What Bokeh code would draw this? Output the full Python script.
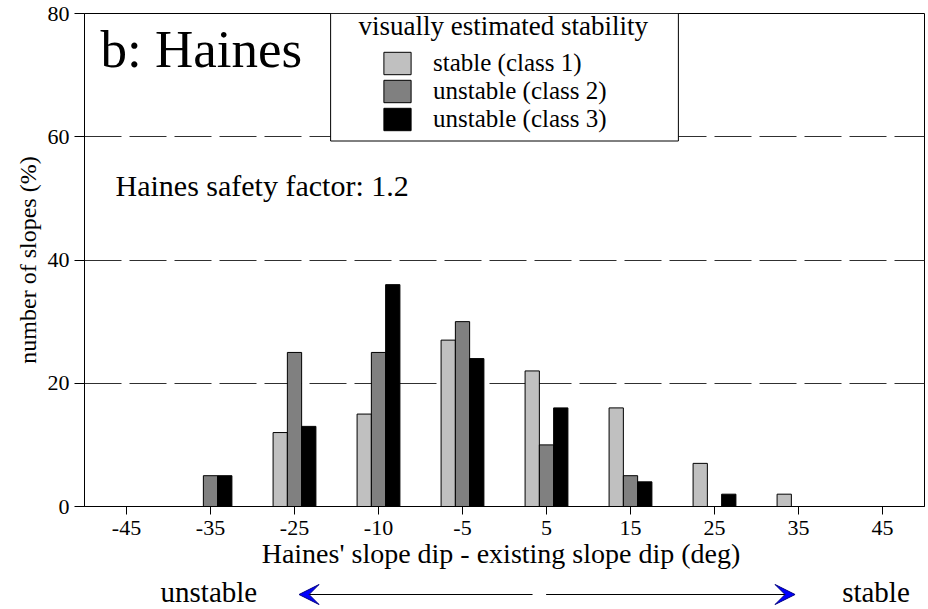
from bokeh.plotting import figure
from bokeh.models import (FactorRange, Range1d, FixedTicker, Legend, LegendItem,
                          BoxAnnotation, Label, Arrow, VeeHead, ColumnDataSource)
from bokeh.core.properties import value
from bokeh.transform import dodge
from bokeh.layouts import column
from bokeh.embed import file_html
from bokeh.resources import INLINE

# ---- data ----
categories = ["-45", "-35", "-25", "-10", "-5", "5", "15", "25", "35", "45"]
class1 = [0, 0, 12, 15, 27, 22, 16, 7, 2, 0]      # stable (class 1)
class2 = [0, 5, 25, 25, 30, 10, 5, 0, 0, 0]       # unstable (class 2)
class3 = [0, 5, 13, 36, 24, 16, 4, 2, 0, 0]       # unstable (class 3)
y_ticks = [0, 20, 40, 60, 80]
grid_ticks = [20, 40, 60]
series_labels = ["stable (class 1)", "unstable (class 2)", "unstable (class 3)"]
series_colors = ["#C0C0C0", "#808080", "#000000"]

FONT = "Liberation Serif"

source = ColumnDataSource(dict(cat=categories, c1=class1, c2=class2, c3=class3))

p = figure(x_range=FactorRange(factors=categories, range_padding=0),
           y_range=Range1d(0, 80),
           width=928, height=575, output_backend="svg", toolbar_location=None,
           min_border_left=84, min_border_right=4, min_border_top=13,
           min_border_bottom=69)
p.background_fill_color = "white"
p.border_fill_color = "white"
p.outline_line_color = "black"
p.outline_line_width = 1

offsets = [-0.17, 0.0, 0.17]
renderers = []
for col, off, color in zip(["c1", "c2", "c3"], offsets, series_colors):
    r = p.vbar(x=dodge("cat", off, range=p.x_range), top=col, bottom=0, width=0.17,
               source=source, fill_color=color, line_color="black", line_width=1)
    renderers.append(r)

# grid
p.xgrid.grid_line_color = None
p.ygrid.ticker = FixedTicker(ticks=grid_ticks)
p.ygrid.grid_line_color = "#303030"
p.ygrid.grid_line_width = 1
p.ygrid.grid_line_dash = "37 8"

# axes
p.yaxis.ticker = FixedTicker(ticks=y_ticks)
p.yaxis.minor_tick_line_color = None
p.yaxis.major_tick_in = 0
p.yaxis.major_tick_out = 10
p.yaxis.major_label_standoff = 5
p.yaxis.axis_label = "number of slopes (%)"
p.yaxis.axis_label_standoff = 4
p.yaxis.axis_label_text_font = FONT
p.yaxis.axis_label_text_font_size = "24px"
p.yaxis.axis_label_text_font_style = "normal"
p.yaxis.major_label_text_font = FONT
p.yaxis.major_label_text_font_size = "22px"
p.yaxis.axis_line_color = "black"

p.xaxis.major_tick_in = 0
p.xaxis.major_tick_out = 8
p.xaxis.major_label_standoff = 6
p.xaxis.axis_label = "Haines' slope dip - existing slope dip  (deg)"
p.xaxis.axis_label_standoff = 0
p.xaxis.axis_label_text_font = FONT
p.xaxis.axis_label_text_font_size = "28px"
p.xaxis.axis_label_text_font_style = "normal"
p.xaxis.major_label_text_font = FONT
p.xaxis.major_label_text_font_size = "22px"
p.xaxis.axis_line_color = "black"

for ax in (p.xaxis, p.yaxis):
    ax.major_label_text_color = "black"
    ax.axis_label_text_color = "black"
    ax.major_tick_line_color = "black"

# legend box (white, covers grid line)
box = BoxAnnotation(left=2.93, right=7.07, bottom=59.31, top=80,
                    fill_color="white", fill_alpha=1.0,
                    line_color="black", line_width=1, line_alpha=1.0)
p.add_layout(box)

legend_title = Label(x=3.262, y=78.0, text="visually estimated stability",
                     text_font=FONT, text_font_size="27px", text_baseline="middle",
                     text_color="black")
p.add_layout(legend_title)

legend = Legend(items=[LegendItem(label=value(l), renderers=[r])
                       for l, r in zip(series_labels, renderers)],
                location=(296, 373), padding=0, spacing=0, margin=0,
                glyph_width=34, glyph_height=28, label_height=28, label_standoff=19,
                label_text_font=FONT, label_text_font_size="25px",
                label_text_color="black",
                border_line_color=None, background_fill_alpha=0)
p.add_layout(legend)

p.add_layout(Label(x=0.19, y=74.3, text="b: Haines", text_font=FONT,
                   text_font_size="53px", text_baseline="middle", text_color="black"))
p.add_layout(Label(x=0.369, y=52.11, text="Haines safety factor: 1.2", text_font=FONT,
                   text_font_size="30px", text_baseline="middle", text_color="black"))

# ---- stability direction strip ----
p2 = figure(width=928, height=33, x_range=Range1d(0, 928), y_range=Range1d(0, 33),
            output_backend="svg", toolbar_location=None,
            x_axis_type=None, y_axis_type=None, min_border=0)
p2.outline_line_color = None
p2.background_fill_color = "white"
p2.border_fill_color = "white"

for xs, xe in [(495, 237), (510, 785)]:
    p2.add_layout(Arrow(end=VeeHead(size=20, fill_color="#0000FF", line_color="#000080",
                                    line_width=1),
                        x_start=xs, y_start=14, x_end=xe, y_end=14,
                        line_color="black", line_width=1))

p2.add_layout(Label(x=84, y=16.5, text="unstable", text_font=FONT, text_font_size="29px",
                    text_baseline="middle", text_color="black"))
p2.add_layout(Label(x=837, y=16.5, text="stable", text_font=FONT, text_font_size="29px",
                    text_baseline="middle", text_color="black"))

layout = column(p, p2, spacing=0)
open("out.html", "w").write(file_html(layout, INLINE))
